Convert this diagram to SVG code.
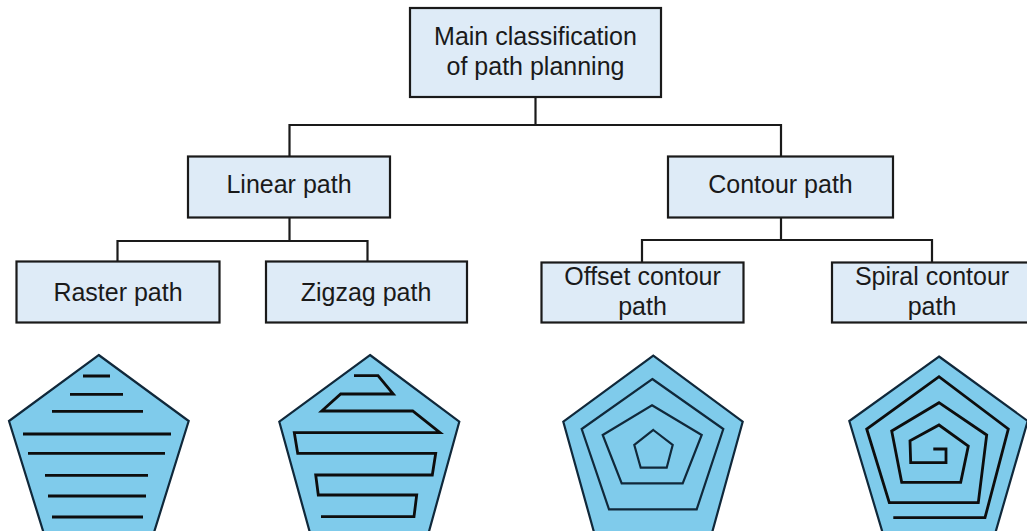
<svg xmlns="http://www.w3.org/2000/svg" width="1027" height="531" viewBox="0 0 1027 531">
<style>
.box{fill:#DEEBF7;stroke:#1a1a1a;stroke-width:2.2}
.lbl{font-family:"Liberation Sans",Arial,sans-serif;font-size:25px;fill:#1a1a1a;text-anchor:middle}
.conn{fill:none;stroke:#1a1a1a;stroke-width:2.2}
.pent{fill:#7FCBEB;stroke:#10283a;stroke-width:2.2;stroke-linejoin:miter}
.trk{fill:none;stroke:#0d0d0d;stroke-width:2.8;stroke-linejoin:miter}
</style>
<rect width="1027" height="531" fill="#ffffff"/>
<g id="connectors">
<path class="conn" d="M535.5,97 V125"/>
<path class="conn" d="M289.5,157 V125 H781 V157"/>
<path class="conn" d="M289.5,218 V241"/>
<path class="conn" d="M117.5,262 V241 H367.5 V262"/>
<path class="conn" d="M781,218 V240"/>
<path class="conn" d="M642,263 V240 H932 V263"/>
</g>
<g id="main">
<rect class="box" x="410" y="8" width="251" height="89"/>
<text class="lbl" x="535.5" y="45">Main classification</text>
<text class="lbl" x="535.5" y="75">of path planning</text>
</g>
<g id="linear">
<rect class="box" x="188" y="156.5" width="202" height="61"/>
<text class="lbl" x="289" y="193">Linear path</text>
</g>
<g id="contour">
<rect class="box" x="668" y="156.5" width="225" height="61"/>
<text class="lbl" x="780.5" y="193">Contour path</text>
</g>
<g id="raster">
<rect class="box" x="16.5" y="261.5" width="203" height="61"/>
<text class="lbl" x="118" y="301">Raster path</text>
</g>
<g id="zigzag">
<rect class="box" x="266" y="261.5" width="201" height="61"/>
<text class="lbl" x="366" y="301">Zigzag path</text>
</g>
<g id="offset">
<rect class="box" x="541.5" y="262.5" width="202" height="60"/>
<text class="lbl" x="642.5" y="285">Offset contour</text>
<text class="lbl" x="642.5" y="315">path</text>
</g>
<g id="spiral">
<rect class="box" x="832" y="262.5" width="200" height="60"/>
<text class="lbl" x="932" y="285">Spiral contour</text>
<text class="lbl" x="932" y="315">path</text>
</g>
<g id="raster-shape">
<polygon class="pent" points="98.7,355 188.7,421 153.5,534 44,534 9,421"/>
<path class="trk" d="M83,376 H110 M70,394.3 H123 M52,411.3 H143 M23,434 H171 M28,453.3 H165 M45,475.3 H148 M48,496 H146 M52,517 H143"/>
</g>
<g id="zigzag-shape">
<polygon class="pent" points="370,355 459.3,421.7 428.3,534 310.3,534 279.3,421.7"/>
<path class="trk" d="M354,375.7 H378 L393.3,394 H340.7 L321.7,411 H412.7 L440,432.7 H294.3 L297.7,453.3 H435.7 L432.3,475 H315.7 L318.3,495 H416.7 L414,516.7 H321"/>
</g>
<g id="offset-shape">
<polygon class="pent" points="653.3,355.7 742.7,421.7 711.7,534 594.5,534 563.3,421.7"/>
<polygon class="pent" points="652.3,379 723.3,429 696.7,509.3 609,509.3 581.7,429"/>
<polygon class="pent" points="652,405.3 701.7,435 682.7,483.3 621.7,483.3 602.7,435"/>
<polygon class="pent" points="653.3,430 672.7,445 666.7,467.7 640.7,467.7 634.3,445"/>
</g>
<g id="spiral-shape">
<polygon class="pent" points="939,356.5 1027.7,421 995,534 883,534 849.3,421"/>
<path class="trk" d="M893.3,517.7 H985 L1008.3,429 L939,376.7 L866.7,429 L889.3,502.7 H978.3 L986.7,435 L939,402.7 L891.7,431 L901.7,482.3 H960.7 L968.3,446 L939,425 L910,440.7 L910.7,462.7 H946 V449 H933.3"/>
</g>
</svg>
